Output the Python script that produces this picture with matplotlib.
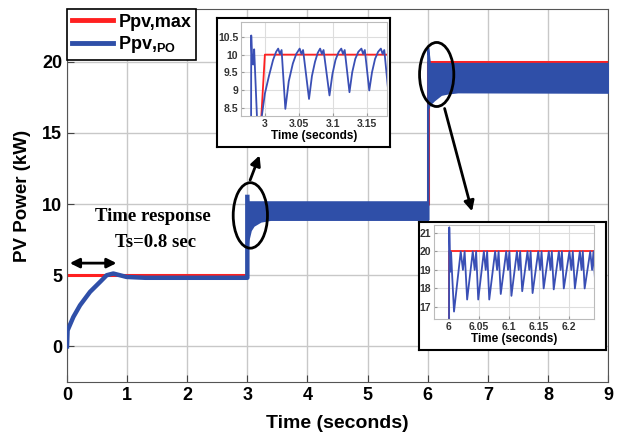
import matplotlib.pyplot as plt
import numpy as np
from matplotlib.patches import Ellipse

plt.rcParams['font.family'] = ['Liberation Sans', 'DejaVu Sans']
plt.rcParams['font.weight'] = 'bold'
plt.rcParams['mathtext.fontset'] = 'custom'
plt.rcParams['mathtext.rm'] = 'Liberation Sans:bold'
plt.rcParams['mathtext.bf'] = 'Liberation Sans:bold'

RED = '#ff2020'
BLUE = '#2f4fa8'
BLUE_IN = '#3a4fb5'

# reference (maximum) power, main plot
ref_t = [0, 3, 3, 6, 6, 9]
ref_y = [5, 5, 10, 10, 20, 20]

# P&O output, start-up transient up to the first step
po_t = [0, 0.01, 0.106, 0.217, 0.383, 0.55, 0.66, 0.77, 0.99, 1.3, 2.0, 3.0, 3.0]
po_y = [0, 1.13, 2.07, 2.89, 3.83, 4.53, 5.0, 5.12, 4.88, 4.82, 4.82, 4.82, 10.5]

# oscillation envelope after each step
band1_t = [3.0, 3.01, 3.05, 3.1, 3.22, 3.38, 6.0]
band1_hi = [10.5, 10.16, 10.16, 10.16, 10.16, 10.16, 10.16]
band1_lo = [7.0, 7.46, 8.17, 8.5, 8.8, 8.92, 8.92]

band2_t = [6.0, 6.0, 6.03, 6.1, 6.22, 6.33, 6.5, 9.0]
band2_hi = [8.92, 21.0, 19.88, 19.88, 19.88, 19.88, 19.88, 19.88]
band2_lo = [8.92, 16.7, 17.0, 17.3, 17.7, 17.8, 17.88, 17.85]

# zoom 1 (around t = 3 s)
z1_ref_t = [2.96, 2.985, 3.0, 3.18]
z1_ref_y = [5.0, 5.0, 10.0, 10.0]
z1_t = [2.965, 2.9795, 2.980, 2.9813, 2.9828, 2.9843, 2.990,
        3.0, 3.006, 3.012, 3.0165, 3.0195, 3.022, 3.0245, 3.030,
        3.035, 3.041, 3.046, 3.051, 3.0535, 3.056, 3.0647,
        3.069, 3.0735, 3.0775, 3.081, 3.0835, 3.086, 3.0947,
        3.099, 3.1035, 3.108, 3.112, 3.1145, 3.117, 3.124,
        3.128, 3.1325, 3.137, 3.1415, 3.144, 3.1465, 3.153,
        3.157, 3.1615, 3.166, 3.170, 3.1725, 3.175, 3.181]
z1_y = [4.82, 4.82, 10.54, 9.85, 9.72, 10.15, 7.5,
        8.9, 9.4, 9.85, 10.08, 10.17, 10.02, 10.13, 8.47,
        9.25, 9.75, 10.02, 10.17, 10.02, 10.13, 8.75,
        9.4, 9.8, 10.05, 10.17, 10.02, 10.13, 8.85,
        9.45, 9.85, 10.07, 10.17, 10.02, 10.13, 8.94,
        9.5, 9.88, 10.08, 10.17, 10.02, 10.13, 8.99,
        9.5, 9.88, 10.08, 10.17, 10.02, 10.13, 8.94]

# zoom 2 (around t = 6 s)
z2_ref_t = [5.97, 6.0, 6.0, 6.242]
z2_ref_y = [10.0, 10.0, 20.0, 20.0]
z2_t = [5.97, 5.9995, 6.0005, 6.002, 6.0035, 6.005, 6.0084,
        6.0196, 6.0233, 6.0261, 6.0303,
        6.0397, 6.0429, 6.0453, 6.0488,
        6.0582, 6.0613, 6.0637, 6.0672,
        6.0770, 6.0803, 6.0828, 6.0864,
        6.0955, 6.0985, 6.1008, 6.1042,
        6.1134, 6.1164, 6.1188, 6.1222,
        6.1310, 6.1340, 6.1362, 6.1395,
        6.1489, 6.1521, 6.1545, 6.1580,
        6.1666, 6.1694, 6.1716, 6.1748,
        6.1834, 6.1862, 6.1884, 6.1916,
        6.2010, 6.2042, 6.2066, 6.2101,
        6.2184, 6.2212, 6.2233, 6.2264,
        6.2357, 6.2388, 6.2411, 6.2445]
z2_y = [9.5, 9.5, 21.3, 18.9, 19.97, 18.9, 16.75,
        20.0, 19.0, 20.0, 17.4,
        20.0, 19.0, 20.0, 17.4,
        20.0, 19.0, 20.0, 17.4,
        20.0, 19.0, 20.0, 17.7,
        20.0, 19.0, 20.0, 17.6,
        20.0, 19.0, 20.0, 17.85,
        20.0, 19.0, 20.0, 17.75,
        20.0, 19.0, 20.0, 18.0,
        20.0, 19.0, 20.0, 17.95,
        20.0, 19.0, 20.0, 18.0,
        20.0, 19.0, 20.0, 18.0,
        20.0, 19.0, 20.0, 18.0,
        20.0, 19.0, 20.0, 18.0]

W, H = 620, 438
fig = plt.figure(figsize=(W / 100, H / 100), dpi=100)

def px_axes(x0, y0, x1, y1):
    return fig.add_axes([x0 / W, (H - y1) / H, (x1 - x0) / W, (y1 - y0) / H])

ax = px_axes(67, 9, 608, 382)
ax.grid(True, color='#c8c8c8', lw=1)
ax.set_axisbelow(True)
ax.plot(ref_t, ref_y, color=RED, lw=2.2, label='Ppv,max', zorder=2)
ax.plot(po_t, po_y, color=BLUE, lw=3.2, label=r'Ppv,$_{\mathbf{PO}}$', zorder=3)
ax.fill_between(band1_t, band1_lo, band1_hi, color=BLUE, lw=1.5, zorder=3)
ax.fill_between(band2_t, band2_lo, band2_hi, color=BLUE, lw=1.5, zorder=3)
ax.set_xlim(0, 9)
ax.set_ylim(-2.5, 23.7)
ax.set_xticks(range(0, 10))
ax.set_yticks([0, 5, 10, 15, 20])
ax.tick_params(direction='in', labelsize=13, length=5, color='#444444')
for s in ax.spines.values():
    s.set_color('#555555')
ax.set_xlabel('Time (seconds)', fontsize=14, fontweight='bold', labelpad=8)
ax.set_ylabel('PV Power (kW)', fontsize=13.5, fontweight='bold', labelpad=8)

leg = ax.legend(loc='upper left', borderaxespad=0, fontsize=13, handlelength=2.3,
                handletextpad=0.3, fancybox=False, edgecolor='black',
                framealpha=1, borderpad=0.25, labelspacing=0.2)
for ln in leg.get_lines():
    ln.set_linewidth(3.5)
leg.get_frame().set_linewidth(1.2)

# settling time annotation
ax.annotate('', xy=(0.0, 5.85), xytext=(0.87, 5.85),
            arrowprops=dict(arrowstyle='<|-|>', lw=2, color='black', mutation_scale=14))
ax.text(1.43, 9.1, 'Time response', family='Liberation Serif', fontsize=13.5,
        fontweight='bold', ha='center', va='center')
ax.text(1.47, 7.3, 'Ts=0.8 sec', family='Liberation Serif', fontsize=13.5,
        fontweight='bold', ha='center', va='center')

ax.add_patch(Ellipse((3.05, 9.2), 0.57, 4.6, fill=False, lw=2, color='black', zorder=5))
ax.add_patch(Ellipse((6.15, 19.1), 0.57, 4.5, fill=False, lw=2, color='black', zorder=5))
ax.annotate('', xy=(3.22, 13.6), xytext=(3.03, 11.5),
            arrowprops=dict(arrowstyle='-|>', lw=2, color='black', mutation_scale=15))
ax.annotate('', xy=(6.75, 9.3), xytext=(6.27, 16.9),
            arrowprops=dict(arrowstyle='-|>', lw=2, color='black', mutation_scale=15))

def inset(box, inner, rt, ry, bt, by, xlim, ylim, xt, yt, xtl):
    frame = px_axes(*box)
    frame.set_xticks([])
    frame.set_yticks([])
    for s in frame.spines.values():
        s.set_linewidth(1.5)
        s.set_color('black')
    a = px_axes(*inner)
    a.grid(True, color='#dddddd', lw=0.8)
    a.plot(rt, ry, color=RED, lw=1.3)
    a.plot(bt, by, color=BLUE_IN, lw=1.3)
    a.set_xlim(*xlim)
    a.set_ylim(*ylim)
    a.set_xticks(xt)
    a.set_xticklabels(xtl)
    a.set_yticks(yt)
    a.set_yticklabels([('%g' % v) for v in yt])
    a.tick_params(direction='in', labelsize=7.5, length=2, pad=2, color='#999999',
                  labelcolor='#333333')
    for s in a.spines.values():
        s.set_color('#bbbbbb')
        s.set_linewidth(0.8)
    a.set_xlabel('Time (seconds)', fontsize=8.5, fontweight='bold', labelpad=1)
    return a

inset((217, 18, 390, 147), (241, 22, 387, 116), z1_ref_t, z1_ref_y, z1_t, z1_y,
      (2.965, 3.179), (8.27, 10.92), [3, 3.05, 3.1, 3.15], [8.5, 9, 9.5, 10, 10.5],
      ['3', '3.05', '3.1', '3.15'])
inset((419, 222, 606, 350), (434, 225, 594, 319), z2_ref_t, z2_ref_y, z2_t, z2_y,
      (5.975, 6.242), (16.35, 21.43), [6, 6.05, 6.1, 6.15, 6.2], [17, 18, 19, 20, 21],
      ['6', '6.05', '6.1', '6.15', '6.2'])

fig.savefig('out.png', dpi=100)
